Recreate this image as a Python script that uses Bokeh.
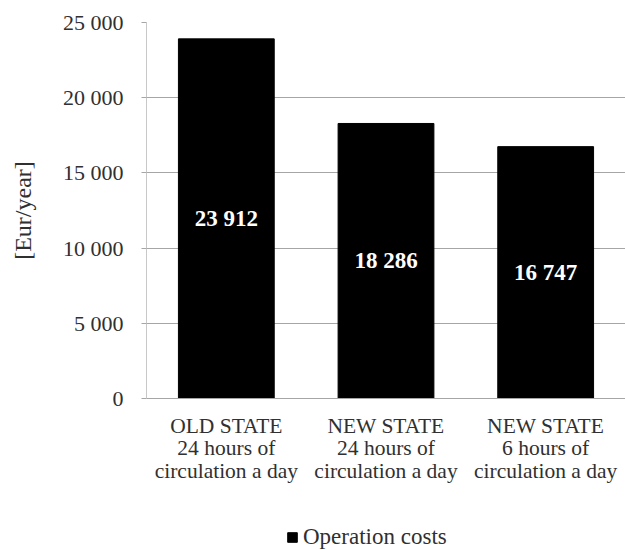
from bokeh.plotting import figure
from bokeh.layouts import column
from bokeh.models import ColumnDataSource, FactorRange, FixedTicker, Legend, LegendItem, LabelSet
from bokeh.embed import file_html
from bokeh.resources import INLINE

# Annual operation costs of the circulation system
states = ["OLD STATE", "NEW STATE", "NEW STATE"]
hours = ["24 hours of", "24 hours of", "6 hours of"]
costs = [23912, 18286, 16747]
y_ticks = [0, 5000, 10000, 15000, 20000, 25000]
series_name = "Operation costs"
y_title = "[Eur/year]"

FONT = "Liberation Serif"
TEXT_COLOR = "#303030"
GRID_COLOR = "#a6a6a6"
BAR_COLOR = "black"


def spaced(n):
    return f"{n:,}".replace(",", " ")


categories = [f"{s}\n{h}\ncirculation a day" for s, h in zip(states, hours)]

source = ColumnDataSource(dict(
    cat=categories,
    cost=costs,
    mid=[c / 2 for c in costs],
    label=[spaced(c) for c in costs],
))

p = figure(
    x_range=FactorRange(*categories, range_padding=0),
    y_range=(0, 25000),
    width=625, height=500,
    min_border_left=146, min_border_right=0,
    min_border_top=22, min_border_bottom=102,
    toolbar_location=None, output_backend="svg",
)
p.outline_line_color = None
p.background_fill_color = "white"
p.border_fill_color = "white"

bars = p.vbar(x="cat", top="cost", width=0.6, source=source,
              fill_color=BAR_COLOR, line_color=BAR_COLOR)

p.add_layout(LabelSet(x="cat", y="mid", text="label", source=source,
                      text_color="white", text_font=FONT, text_font_style="bold",
                      text_font_size="23px", text_align="center",
                      text_baseline="middle"))

# Y axis
p.yaxis.ticker = FixedTicker(ticks=y_ticks)
p.yaxis.major_label_overrides = {t: spaced(t) for t in y_ticks}
p.yaxis.axis_label = y_title
p.yaxis.axis_label_text_font = FONT
p.yaxis.axis_label_text_font_style = "normal"
p.yaxis.axis_label_text_font_size = "24px"
p.yaxis.axis_label_text_color = TEXT_COLOR
p.yaxis.axis_label_standoff = 24
p.yaxis.major_label_text_font = FONT
p.yaxis.major_label_text_font_size = "22px"
p.yaxis.major_label_text_color = TEXT_COLOR
p.yaxis.major_label_standoff = 18
p.yaxis.axis_line_color = "#c8c8c8"
p.yaxis.major_tick_line_color = GRID_COLOR
p.yaxis.major_tick_out = 5
p.yaxis.major_tick_in = 0
p.yaxis.minor_tick_line_color = None

# X axis
p.xaxis.axis_line_color = GRID_COLOR
p.xaxis.major_tick_line_color = None
p.xaxis.major_label_text_font = FONT
p.xaxis.major_label_text_font_size = "21.5px"
p.xaxis.major_label_text_color = TEXT_COLOR
p.xaxis.major_label_text_line_height = 0.95
p.xaxis.major_label_standoff = 9
p.xaxis.major_label_orientation = "horizontal"

p.xgrid.grid_line_color = None
p.ygrid.grid_line_color = GRID_COLOR
p.ygrid.grid_line_width = 1

# Legend strip under the chart
leg = figure(width=625, height=50, x_range=(0, 1), y_range=(0, 1),
             min_border=0, toolbar_location=None, output_backend="svg")
leg.axis.visible = False
leg.grid.grid_line_color = None
leg.outline_line_color = None
leg_bars = leg.vbar(x="cat", top="cost", width=0.6, source=source,
                    fill_color=BAR_COLOR, line_color=BAR_COLOR, visible=False)
legend = Legend(items=[LegendItem(label=series_name, renderers=[leg_bars])],
                location=(140, 0), orientation="horizontal",
                border_line_color=None, background_fill_alpha=0,
                inactive_fill_alpha=0,
                label_text_font=FONT, label_text_font_size="23px",
                label_text_color=TEXT_COLOR,
                glyph_width=12, glyph_height=12, label_standoff=5,
                margin=0, padding=0)
leg.add_layout(legend, "center")

layout = column(p, leg, spacing=0)
open("out.html", "w").write(file_html(layout, INLINE))
